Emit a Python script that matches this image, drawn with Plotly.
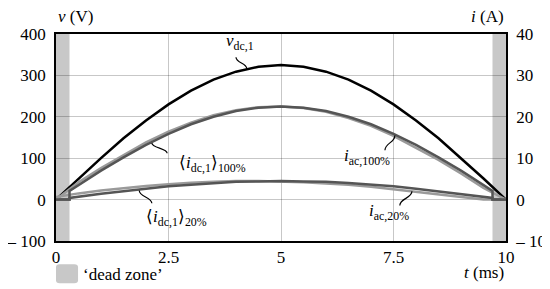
import plotly.graph_objects as go

# time axis (ms)
t = [0, 0.5, 1, 1.5, 2, 2.5, 3, 3.5, 4, 4.5, 5, 5.5, 6, 6.5, 7, 7.5, 8, 8.5, 9, 9.5, 10]
# dead-zone edges repeated so the average dc current can step
t_dz = [0, 0.3, 0.3, 0.5, 1, 1.5, 2, 2.5, 3, 3.5, 4, 4.5, 5, 5.5, 6, 6.5, 7, 7.5, 8, 8.5, 9, 9.5, 9.7, 9.7, 10]

v_dc1 = [0, 51, 100, 148, 191, 230, 263, 290, 309, 321, 325, 321, 309, 290, 263, 230, 191, 148, 100, 51, 0]

i_dc_100 = [0, 0, 2.1, 3.5, 7.0, 10.2, 13.2, 15.9, 18.2, 20.0, 21.4, 22.2, 22.5, 22.2, 21.4, 20.0, 18.2, 15.9, 13.2, 10.2, 7.0, 3.5, 2.1, 0, 0]
i_ac_100 = [0, 4.2, 7.6, 10.8, 13.8, 16.4, 18.6, 20.4, 21.6, 22.3, 22.5, 22.1, 21.2, 19.7, 17.8, 15.4, 12.6, 9.6, 6.3, 2.8, 0]

i_dc_20 = [0, 0, 0.4, 0.7, 1.4, 2.0, 2.6, 3.2, 3.6, 4.0, 4.3, 4.4, 4.5, 4.4, 4.3, 4.0, 3.6, 3.2, 2.6, 2.0, 1.4, 0.7, 0.4, 0, 0]
i_ac_20 = [0.6, 1.5, 2.2, 2.8, 3.3, 3.7, 4.1, 4.3, 4.5, 4.5, 4.4, 4.2, 3.9, 3.6, 3.1, 2.5, 1.9, 1.3, 0.6, 0, 0]

y_left_ticks = [-100, 0, 100, 200, 300, 400]
y_left_text = ["\u2013 100", "0", "100", "200", "300", "400"]
y_right_ticks = [-10, 0, 10, 20, 30, 40]
y_right_text = ["\u2013 10", "0", "10", "20", "30", "40"]
x_ticks = [0, 2.5, 5, 7.5, 10]
x_text = ["0", "2.5", "5", "7.5", "10"]

dead_zone = [(0, 0.3), (9.7, 10)]

FONT = "Liberation Serif"
BLACK = "#000000"
DARK = "#555555"
LIGHT = "#9a9a9a"
ZONE = "#c8c8c8"

fig = go.Figure()

# currents first (right axis), voltage on top
fig.add_trace(go.Scatter(x=t, y=i_ac_20, yaxis="y2", mode="lines",
                         line=dict(color=LIGHT, width=2.5), showlegend=False))
fig.add_trace(go.Scatter(x=t_dz, y=i_dc_20, yaxis="y2", mode="lines",
                         line=dict(color=DARK, width=2.5), showlegend=False))
fig.add_trace(go.Scatter(x=t, y=i_ac_100, yaxis="y2", mode="lines",
                         line=dict(color=LIGHT, width=2.5), showlegend=False))
fig.add_trace(go.Scatter(x=t_dz, y=i_dc_100, yaxis="y2", mode="lines",
                         line=dict(color=DARK, width=2.5), showlegend=False))
fig.add_trace(go.Scatter(x=t, y=v_dc1, mode="lines",
                         line=dict(color=BLACK, width=2.5), showlegend=False))

shapes = []
for a, b in dead_zone:
    shapes.append(dict(type="rect", xref="x", yref="y", x0=a, x1=b, y0=-100, y1=400,
                       fillcolor=ZONE, line=dict(width=0), layer="below"))

# little curly leaders from labels to curves
def leader(x0, y0, x1, y1):
    ym = (y0 + y1) / 2
    return dict(type="path", xref="x", yref="y",
                path=f"M {x0},{y0} C {x0},{ym} {x1},{ym} {x1},{y1}",
                line=dict(color=BLACK, width=1.2))

shapes += [
    leader(4.0, 344, 4.24, 316),
    leader(2.47, 112, 2.13, 137),
    leader(7.31, 119, 7.53, 155),
    leader(2.13, -9, 1.85, 22),
    leader(7.64, -14, 7.91, 20),
]

# legend swatch
shapes.append(dict(type="path", xref="paper", yref="paper",
                   path="M 0.008,-0.204 L 0.041,-0.204 Q 0.049,-0.204 0.049,-0.19 "
                        "L 0.049,-0.126 Q 0.049,-0.112 0.041,-0.112 L 0.008,-0.112 "
                        "Q 0,-0.112 0,-0.126 L 0,-0.19 Q 0,-0.204 0.008,-0.204 Z",
                   fillcolor=ZONE, line=dict(width=0)))

lab = dict(size=17, family=FONT, color=BLACK)
annotations = [
    dict(x=4.09, y=380, xref="x", yref="y", text="<i>v</i><sub>dc,1</sub>"),
    dict(x=3.47, y=86, xref="x", yref="y", text="\u27e8<i>i</i><sub>dc,1</sub>\u27e9<sub>100%</sub>"),
    dict(x=6.92, y=104, xref="x", yref="y", text="<i>i</i><sub>ac,100%</sub>"),
    dict(x=2.67, y=-45, xref="x", yref="y", text="\u27e8<i>i</i><sub>dc,1</sub>\u27e9<sub>20%</sub>"),
    dict(x=7.4, y=-31, xref="x", yref="y", text="<i>i</i><sub>ac,20%</sub>"),
]
for a in annotations:
    a.update(showarrow=False, font=lab, xanchor="center", yanchor="middle")

annotations += [
    dict(x=0.0, y=1.085, xref="paper", yref="paper", text="<i>v</i> (V)",
         xanchor="left", yanchor="middle", showarrow=False, font=lab),
    dict(x=1.0, y=1.085, xref="paper", yref="paper", text="<i>i</i> (A)",
         xanchor="right", yanchor="middle", showarrow=False, font=lab),
    dict(x=1.0, y=-0.151, xref="paper", yref="paper", text="<i>t</i> (ms)",
         xanchor="right", yanchor="middle", showarrow=False, font=lab),
    dict(x=0.056, y=-0.161, xref="paper", yref="paper", text="\u2018dead zone\u2019",
         xanchor="left", yanchor="middle", showarrow=False, font=lab),
]

grid = "rgba(0,0,0,0.22)"
tickfont = dict(family=FONT, size=17, color=BLACK)

# the page body adds an 8 px offset, so the figure is sized to fit inside it
fig.update_layout(
    width=542, height=281,
    margin=dict(l=48, r=44, t=26, b=48, autoexpand=False),
    paper_bgcolor="white", plot_bgcolor="white",
    font=dict(family=FONT, size=17, color=BLACK),
    showlegend=False,
    shapes=shapes,
    annotations=annotations,
    xaxis=dict(range=[0, 10], tickvals=x_ticks, ticktext=x_text, tickfont=tickfont,
               showgrid=True, gridcolor=grid, gridwidth=1, zeroline=False,
               showline=True, linecolor=BLACK, linewidth=1.5, mirror=True,
               ticks="", ticklen=0, ticklabelstandoff=0, automargin=False),
    yaxis=dict(range=[-100, 400], tickvals=y_left_ticks, ticktext=y_left_text, tickfont=tickfont,
               showgrid=True, gridcolor=grid, gridwidth=1, zeroline=False,
               showline=True, linecolor=BLACK, linewidth=1.5,
               ticks="", ticklen=0, ticklabelstandoff=5, automargin=False),
    yaxis2=dict(range=[-10, 40], tickvals=y_right_ticks, ticktext=y_right_text, tickfont=tickfont,
                overlaying="y", side="right", showgrid=False, zeroline=False,
                showline=True, linecolor=BLACK, linewidth=1.5,
                ticks="", ticklen=0, ticklabelstandoff=5, automargin=False),
)

fig.write_html("out.html")
